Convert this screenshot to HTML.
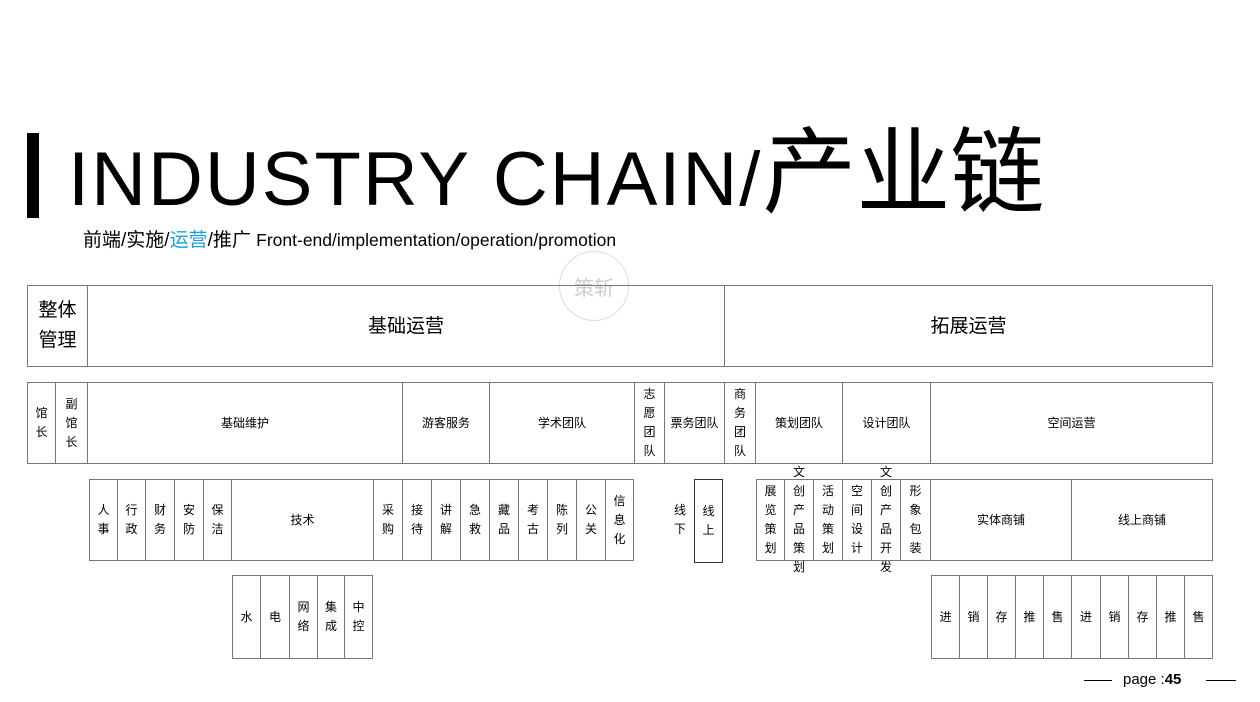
<!DOCTYPE html>
<html><head><meta charset="utf-8"><style>
body{margin:0;width:1260px;height:702px;background:#fff;position:relative;overflow:hidden;font-family:"Liberation Sans","Noto Sans CJK SC",sans-serif;color:#000}
.b{position:absolute;box-sizing:border-box;border:1px solid #777;display:flex;align-items:center;justify-content:center;text-align:center;font-size:12px;line-height:19px}
.t{position:absolute;display:flex;align-items:center;justify-content:center;text-align:center;font-size:12px;line-height:19px}
</style></head><body>
<div style="position:absolute;left:27px;top:133px;width:12px;height:85px;background:#000"></div>
<div style="position:absolute;left:68px;top:118px;font-size:76px;line-height:110px;letter-spacing:2px;white-space:nowrap;font-family:'Liberation Sans','Noto Sans CJK SC',sans-serif">INDUSTRY CHAIN/<span style="font-size:94px;letter-spacing:0">产业链</span></div>
<div style="position:absolute;left:83px;top:228px;font-size:19px;line-height:24px;white-space:nowrap">前端/实施/<span style="color:#1aa0e0">运营</span>/推广 <span style="font-size:17.5px">Front-end/implementation/operation/promotion</span></div>
<div style="position:absolute;left:559px;top:251px;width:70px;height:70px;border-radius:50%;border:1px solid #ddd;box-sizing:border-box;color:#ccc;font-size:20px;display:flex;align-items:center;justify-content:center">策斩</div>

<div class="b" style="left:27px;top:285px;width:1186px;height:82px"></div>
<div class="b" style="left:27px;top:285px;width:61px;height:82px;font-size:19px;line-height:30px">整体<br>管理</div>
<div class="b" style="left:87px;top:285px;width:638px;height:82px;font-size:19px">基础运营</div>
<div class="b" style="left:724px;top:285px;width:489px;height:82px;font-size:19px">拓展运营</div>

<div class="b" style="left:27px;top:382px;width:29px;height:82px">馆<br>长</div>
<div class="b" style="left:55px;top:382px;width:33px;height:82px">副<br>馆<br>长</div>
<div class="b" style="left:87px;top:382px;width:316px;height:82px">基础维护</div>
<div class="b" style="left:402px;top:382px;width:88px;height:82px">游客服务</div>
<div class="b" style="left:489px;top:382px;width:146px;height:82px">学术团队</div>
<div class="b" style="left:634px;top:382px;width:31px;height:82px">志<br>愿<br>团<br>队</div>
<div class="b" style="left:664px;top:382px;width:61px;height:82px">票务团队</div>
<div class="b" style="left:724px;top:382px;width:32px;height:82px">商<br>务<br>团<br>队</div>
<div class="b" style="left:755px;top:382px;width:88px;height:82px">策划团队</div>
<div class="b" style="left:842px;top:382px;width:89px;height:82px">设计团队</div>
<div class="b" style="left:930px;top:382px;width:283px;height:82px">空间运营</div>

<div class="b" style="left:89px;top:479px;width:29px;height:82px">人<br>事</div>
<div class="b" style="left:117px;top:479px;width:29px;height:82px">行<br>政</div>
<div class="b" style="left:145px;top:479px;width:30px;height:82px">财<br>务</div>
<div class="b" style="left:174px;top:479px;width:30px;height:82px">安<br>防</div>
<div class="b" style="left:203px;top:479px;width:29px;height:82px">保<br>洁</div>
<div class="b" style="left:231px;top:479px;width:143px;height:82px">技术</div>
<div class="b" style="left:373px;top:479px;width:30px;height:82px">采<br>购</div>
<div class="b" style="left:402px;top:479px;width:30px;height:82px">接<br>待</div>
<div class="b" style="left:431px;top:479px;width:30px;height:82px">讲<br>解</div>
<div class="b" style="left:460px;top:479px;width:30px;height:82px">急<br>救</div>
<div class="b" style="left:489px;top:479px;width:30px;height:82px">藏<br>品</div>
<div class="b" style="left:518px;top:479px;width:30px;height:82px">考<br>古</div>
<div class="b" style="left:547px;top:479px;width:30px;height:82px">陈<br>列</div>
<div class="b" style="left:576px;top:479px;width:30px;height:82px">公<br>关</div>
<div class="b" style="left:605px;top:479px;width:29px;height:82px">信<br>息<br>化</div>

<div class="t" style="left:666px;top:479px;width:28px;height:82px">线<br>下</div>
<div class="b" style="left:694px;top:479px;width:29px;height:84px;border-color:#333">线<br>上</div>

<div class="b" style="left:756px;top:479px;width:29px;height:82px">展<br>览<br>策<br>划</div>
<div class="b" style="left:784px;top:479px;width:30px;height:82px"></div>
<div class="t" style="left:784px;top:462px;width:30px;height:116px">文<br>创<br>产<br>品<br>策<br>划</div>
<div class="b" style="left:813px;top:479px;width:30px;height:82px">活<br>动<br>策<br>划</div>
<div class="b" style="left:842px;top:479px;width:30px;height:82px">空<br>间<br>设<br>计</div>
<div class="b" style="left:871px;top:479px;width:30px;height:82px"></div>
<div class="t" style="left:871px;top:462px;width:30px;height:116px">文<br>创<br>产<br>品<br>开<br>发</div>
<div class="b" style="left:900px;top:479px;width:31px;height:82px">形<br>象<br>包<br>装</div>
<div class="b" style="left:930px;top:479px;width:142px;height:82px">实体商铺</div>
<div class="b" style="left:1071px;top:479px;width:142px;height:82px">线上商铺</div>

<div class="b" style="left:232px;top:575px;width:29px;height:84px">水</div>
<div class="b" style="left:260px;top:575px;width:30px;height:84px">电</div>
<div class="b" style="left:289px;top:575px;width:29px;height:84px">网<br>络</div>
<div class="b" style="left:317px;top:575px;width:28px;height:84px">集<br>成</div>
<div class="b" style="left:344px;top:575px;width:29px;height:84px">中<br>控</div>

<div class="b" style="left:931px;top:575px;width:29px;height:84px">进</div>
<div class="b" style="left:959px;top:575px;width:29px;height:84px">销</div>
<div class="b" style="left:987px;top:575px;width:29px;height:84px">存</div>
<div class="b" style="left:1015px;top:575px;width:29px;height:84px">推</div>
<div class="b" style="left:1043px;top:575px;width:29px;height:84px">售</div>
<div class="b" style="left:1071px;top:575px;width:30px;height:84px">进</div>
<div class="b" style="left:1100px;top:575px;width:29px;height:84px">销</div>
<div class="b" style="left:1128px;top:575px;width:29px;height:84px">存</div>
<div class="b" style="left:1156px;top:575px;width:29px;height:84px">推</div>
<div class="b" style="left:1184px;top:575px;width:29px;height:84px">售</div>

<div style="position:absolute;left:1084px;top:680px;width:28px;height:1px;background:#000"></div>
<div style="position:absolute;left:1123px;top:670px;font-size:15px;line-height:20px;white-space:nowrap">page :<b>45</b></div>
<div style="position:absolute;left:1206px;top:680px;width:30px;height:1px;background:#000"></div>
</body></html>
